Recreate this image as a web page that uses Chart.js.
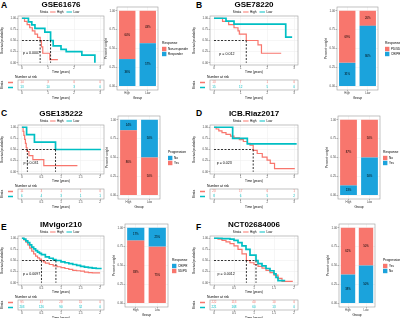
<!DOCTYPE html>
<html>
<head>
<meta charset="utf-8">
<script src="https://cdn.jsdelivr.net/npm/chart.js@4.4.1/dist/chart.umd.min.js"></script>
<style>
  body { margin: 0; width: 400px; height: 318px; background: #fff; position: relative; overflow: hidden; font-family: "Liberation Sans", Arial, sans-serif; }
  canvas { position: absolute; }
  .tag { position: absolute; font-weight: bold; font-size: 8.5px; line-height: 1; }
</style>
</head>
<body>
<div class="tag" style="left:1px;top:1px">A</div>
<div class="tag" style="left:196px;top:1px">B</div>
<div class="tag" style="left:1px;top:109px">C</div>
<div class="tag" style="left:196px;top:109px">D</div>
<div class="tag" style="left:1px;top:223px">E</div>
<div class="tag" style="left:196px;top:223px">F</div>
<script>
const RED = '#F8766D', TEAL = '#00BFC4', BLUE = '#1BA3DC';
const FONT = '"Liberation Sans", Arial, sans-serif';

const groups = ['High', 'Low'];
const yearTicks3 = [0, 1, 2, 3];
const yearTicks2 = [0, 0.5, 1, 1.5, 2];
const survTicks = [0, 0.25, 0.5, 0.75, 1];

// A - GSE61676
const timeHighA = [0, 0.1, 0.2, 0.3, 0.4, 0.5, 0.6, 0.7, 0.75, 0.8, 1.07, 1.38];
const survHighA = [1, 0.929, 0.857, 0.786, 0.714, 0.643, 0.571, 0.5, 0.357, 0.214, 0.071, 0.071];
const timeLowA = [0, 0.25, 0.38, 0.5, 0.88, 1.1, 1.2, 1.5, 1.7, 2.3, 2.8];
const survLowA = [1, 0.92, 0.85, 0.77, 0.69, 0.5, 0.38, 0.3, 0.25, 0.17, 0];
const medianA = [0.7, 1.1];
const riskHighA = [14, 3, 0, 0];
const riskLowA = [13, 10, 3, 0];
const nonRespA = [64, 43];
const respA = [36, 57];

// B - GSE78220
const timeHighB = [0, 0.32, 0.55, 0.75, 0.9, 0.95, 1.21, 1.65, 1.78, 2.52];
const survHighB = [1, 0.929, 0.857, 0.786, 0.714, 0.643, 0.5, 0.4, 0.214, 0.214];
const timeLowB = [0, 0.45, 0.75, 2.69, 2.93];
const survLowB = [1, 0.933, 0.867, 0.578, 0.578];
const medianB = [1.21];
const riskHighB = [13, 7, 1, 0];
const riskLowB = [15, 12, 5, 0];
const pdsdB = [69, 20];
const crprB = [31, 80];

// C - GSE135222
const timeHighC = [0, 0.03, 0.05, 0.07, 0.09, 0.11, 0.13, 0.18, 0.28, 0.56, 1.42];
const survHighC = [1, 0.909, 0.818, 0.727, 0.636, 0.545, 0.455, 0.364, 0.273, 0.14, 0.14];
const timeLowC = [0, 0.12, 0.32, 0.86, 2.02];
const survLowC = [1, 0.833, 0.667, 0.5, 0.5];
const medianC = [0.14, 0.86];
const riskHighC = [11, 3, 1, 1, 0];
const riskLowC = [6, 4, 3, 1, 1];
const progNoC = [14, 50];
const progYesC = [86, 50];

// D - ICB.Riaz2017
const timeHighD = [0, 0.08, 0.18, 0.3, 0.45, 0.62, 0.75, 0.95, 1.1, 1.25, 1.35, 1.47, 1.62, 1.81, 1.99, 2.11, 2.27, 3.03];
const survHighD = [1, 0.96, 0.92, 0.88, 0.84, 0.8, 0.76, 0.72, 0.68, 0.64, 0.6, 0.48, 0.41, 0.33, 0.26, 0.19, 0.07, 0.07];
const timeLowD = [0, 0.7, 1.25, 3.1];
const survLowD = [1, 0.75, 0.625, 0.625];
const medianD = [1.47];
const riskHighD = [23, 17, 6, 1];
const riskLowD = [8, 6, 5, 2];
const respNoD = [87, 50];
const respYesD = [13, 50];

// E - IMvigor210
const timeHighE = [0, 0.05, 0.1, 0.15, 0.2, 0.25, 0.3, 0.35, 0.4, 0.45, 0.5, 0.55, 0.6, 0.7, 0.8, 0.9, 1.0, 1.1, 1.2, 1.3, 1.4, 1.5, 1.6, 1.7, 1.8, 1.9, 2.0];
const survHighE = [1, 0.96, 0.91, 0.85, 0.78, 0.71, 0.65, 0.6, 0.56, 0.53, 0.5, 0.47, 0.44, 0.41, 0.38, 0.36, 0.34, 0.32, 0.3, 0.28, 0.27, 0.26, 0.24, 0.23, 0.22, 0.22, 0.22];
const timeLowE = [0, 0.05, 0.1, 0.15, 0.2, 0.25, 0.3, 0.35, 0.4, 0.45, 0.5, 0.6, 0.7, 0.8, 0.87, 1.0, 1.1, 1.2, 1.3, 1.4, 1.5, 1.6, 1.7, 1.8, 1.9, 2.04];
const survLowE = [1, 0.98, 0.94, 0.9, 0.85, 0.8, 0.76, 0.72, 0.69, 0.66, 0.63, 0.58, 0.55, 0.52, 0.5, 0.47, 0.45, 0.43, 0.41, 0.39, 0.37, 0.35, 0.34, 0.33, 0.32, 0.32];
const medianE = [0.5, 0.87];
const riskHighE = [95, 47, 28, 15, 0];
const riskLowE = [203, 126, 90, 52, 0];
const crprE = [17, 25];
const sdpdE = [83, 75];

// F - NCT02684006
const timeHighF = [0, 0.1, 0.2, 0.3, 0.4, 0.5, 0.6, 0.7, 0.81, 0.9, 1.0, 1.1, 1.2, 1.3, 1.4, 1.5, 1.6, 1.7, 1.97];
const survHighF = [1, 0.98, 0.95, 0.92, 0.88, 0.83, 0.75, 0.65, 0.5, 0.45, 0.41, 0.37, 0.33, 0.28, 0.23, 0.17, 0.1, 0.03, 0.03];
const timeLowF = [0, 0.2, 0.4, 0.5, 0.6, 0.7, 0.8, 0.9, 1.05, 1.1, 1.2, 1.3, 1.4, 1.5, 1.55, 1.6, 1.78];
const survLowF = [1, 0.99, 0.98, 0.95, 0.9, 0.83, 0.75, 0.62, 0.5, 0.43, 0.38, 0.32, 0.27, 0.2, 0.12, 0.05, 0.05];
const medianF = [0.81, 1.05];
const riskHighF = [222, 113, 40, 10, 0];
const riskLowF = [221, 168, 60, 13, 0];
const progYesF = [62, 50];
const progNoF = [38, 50];

const panels = [
  {title: 'GSE61676', col: 0, row: 0, tHigh: timeHighA, sHigh: survHighA, tLow: timeLowA, sLow: survLowA, median: medianA,
   p: 'p = 0.0007', pPos: [0.04, 0.22], xTicks: yearTicks3, riskHigh: riskHighA, riskLow: riskLowA,
   legendTitle: 'Response', top: {label: 'Non-responder', color: RED, pct: nonRespA}, bottom: {label: 'Responder', color: BLUE, pct: respA},
   frame: [117, 158], gap: 4},
  {title: 'GSE78220', col: 1, row: 0, tHigh: timeHighB, sHigh: survHighB, tLow: timeLowB, sLow: survLowB, median: medianB,
   p: 'p = 0.012', pPos: [0.2, 0.2], xTicks: yearTicks3, riskHigh: riskHighB, riskLow: riskLowB,
   legendTitle: 'Response', top: {label: 'PD/SD', color: RED, pct: pdsdB}, bottom: {label: 'CR/PR', color: BLUE, pct: crprB},
   frame: [337, 378], gap: 7},
  {title: 'GSE135222', col: 0, row: 1, tHigh: timeHighC, sHigh: survHighC, tLow: timeLowC, sLow: survLowC, median: medianC,
   p: 'p = 0.031', pPos: [0.04, 0.2], xTicks: yearTicks2, riskHigh: riskHighC, riskLow: riskLowC,
   legendTitle: 'Progression', top: {label: 'No', color: BLUE, pct: progNoC}, bottom: {label: 'Yes', color: RED, pct: progYesC},
   frame: [118, 160], gap: 8},
  {title: 'ICB.Riaz2017', col: 1, row: 1, tHigh: timeHighD, sHigh: survHighD, tLow: timeLowD, sLow: survLowD, median: medianD,
   p: 'p = 0.023', pPos: [0.1, 0.2], xTicks: yearTicks3, riskHigh: riskHighD, riskLow: riskLowD,
   legendTitle: 'Response', top: {label: 'No', color: RED, pct: respNoD}, bottom: {label: 'Yes', color: BLUE, pct: respYesD},
   frame: [338, 380], gap: 3},
  {title: 'IMvigor210', col: 0, row: 2, tHigh: timeHighE, sHigh: survHighE, tLow: timeLowE, sLow: survLowE, median: medianE,
   p: 'p = 0.0097', pPos: [0.03, 0.2], xTicks: yearTicks2, riskHigh: riskHighE, riskLow: riskLowE,
   legendTitle: 'Response', top: {label: 'CR/PR', color: BLUE, pct: crprE}, bottom: {label: 'SD/PD', color: RED, pct: sdpdE},
   frame: [125, 168], gap: 4},
  {title: 'NCT02684006', col: 1, row: 2, tHigh: timeHighF, sHigh: survHighF, tLow: timeLowF, sLow: survLowF, median: medianF,
   p: 'p = 0.0012', pPos: [0.09, 0.2], xTicks: yearTicks2, riskHigh: riskHighF, riskLow: riskLowF,
   legendTitle: 'Progression', top: {label: 'Yes', color: RED, pct: progYesF}, bottom: {label: 'No', color: BLUE, pct: progNoF},
   frame: [339, 375], gap: 8}
];

// page layout
const rowTop = [0, 109, 220];
const barTop = [0, 109, 217];
const kmLeft = [0, 192], kmWidth = [106, 108], colRight = [200, 400];

function place(left, top, w, h) {
  const c = document.createElement('canvas');
  c.width = w; c.height = h;
  c.style.left = left + 'px';
  c.style.top = top + 'px';
  document.body.appendChild(c);
  return c;
}

function pts(t, s) { return t.map((v, i) => ({x: v, y: s[i]})); }

const framePlugin = {
  id: 'frame',
  afterDraw(chart) {
    const {ctx, chartArea: a} = chart;
    ctx.save();
    ctx.strokeStyle = '#9a9a9a';
    ctx.lineWidth = 0.6;
    ctx.strokeRect(a.left, a.top, a.right - a.left, a.bottom - a.top);
    ctx.restore();
  }
};

function timeAxis(ticks, height) {
  const span = ticks[ticks.length - 1] - ticks[0];
  return {
    type: 'linear', bounds: 'data',
    min: ticks[0] - span * 0.05, max: ticks[ticks.length - 1] + span * 0.05,
    afterBuildTicks: s => { s.ticks = ticks.map(v => ({value: v})); },
    afterFit: s => { s.height = height; },
    ticks: {font: {size: 2.8}, padding: 0.5, maxRotation: 0, autoSkip: false, color: '#444', callback: v => String(v)},
    grid: {color: '#ececec', lineWidth: 0.5, tickLength: 1.5, tickColor: '#666', tickWidth: 0.5},
    border: {display: false},
    title: {display: true, text: 'Time (years)', font: {size: 3.2}, padding: 0.3, color: '#000'}
  };
}

function drawKM(p) {
  const c = place(kmLeft[p.col], rowTop[p.row], kmWidth[p.col], 74);
  const dash = {borderColor: '#000', borderWidth: 0.8, borderDash: [2, 1.5], pointRadius: 0, order: 1};
  const datasets = [
    {label: 'High', data: pts(p.tHigh, p.sHigh), borderColor: RED, borderWidth: 1.2, stepped: true, pointRadius: 0, order: 3},
    {label: 'Low', data: pts(p.tLow, p.sLow), borderColor: TEAL, borderWidth: 1.7, stepped: true, pointRadius: 0, order: 2}
  ];
  datasets.push({label: 'median', data: [{x: 0, y: 0.5}, {x: Math.max(...p.median), y: 0.5}], ...dash});
  p.median.forEach(m => datasets.push({label: 'median', data: [{x: m, y: 0.5}, {x: m, y: 0}], ...dash}));

  const header = {
    id: 'kmHeader',
    afterDraw(chart) {
      const {ctx, chartArea: a, scales} = chart;
      const cx = (a.left + a.right) / 2;
      ctx.save();
      ctx.fillStyle = '#000';
      ctx.textBaseline = 'middle';
      ctx.textAlign = 'center';
      ctx.font = 'bold 8px ' + FONT;
      ctx.fillText(p.title, cx, a.top - 11.5);
      // strata legend
      ctx.font = '3.1px ' + FONT;
      const items = [{t: 'High', c: RED}, {t: 'Low', c: TEAL}];
      let w = ctx.measureText('Strata').width + 2;
      items.forEach(it => { w += 7 + ctx.measureText(it.t).width + 3; });
      let x = cx - w / 2;
      const y = a.top - 4;
      ctx.textAlign = 'left';
      ctx.fillText('Strata', x, y);
      x += ctx.measureText('Strata').width + 2;
      items.forEach(it => {
        ctx.strokeStyle = it.c; ctx.lineWidth = 1;
        ctx.beginPath(); ctx.moveTo(x, y); ctx.lineTo(x + 5.5, y); ctx.stroke();
        x += 7;
        ctx.fillText(it.t, x, y);
        x += ctx.measureText(it.t).width + 3;
      });
      // p value
      ctx.font = '3.6px ' + FONT;
      ctx.fillText(p.p, scales.x.getPixelForValue(p.pPos[0]), scales.y.getPixelForValue(p.pPos[1]));
      ctx.restore();
    }
  };

  new Chart(c, {
    type: 'line',
    data: {datasets},
    options: {
      responsive: false, animation: false, devicePixelRatio: 1,
      layout: {padding: {top: 16, right: 2, left: 0, bottom: 0}},
      scales: {
        x: timeAxis(p.xTicks, 9),
        y: {
          type: 'linear', bounds: 'data', min: -0.05, max: 1.05,
          afterBuildTicks: s => { s.ticks = survTicks.map(v => ({value: v})); },
          afterFit: s => { s.width = 18; },
          ticks: {font: {size: 2.8}, padding: 0.5, color: '#444', callback: v => v.toFixed(2)},
          grid: {color: '#ececec', lineWidth: 0.5, tickLength: 1.5, tickColor: '#666', tickWidth: 0.5},
          border: {display: false},
          title: {display: true, text: 'Survival probability', font: {size: 3.2}, padding: 0.5, color: '#000'}
        }
      },
      plugins: {legend: {display: false}, tooltip: {enabled: false}}
    },
    plugins: [framePlugin, header]
  });
}

function drawRisk(p) {
  const c = place(kmLeft[p.col], rowTop[p.row] + 74, kmWidth[p.col], 26);
  const datasets = [
    {label: 'High', data: p.xTicks.map(t => ({x: t, y: 'High'})), counts: p.riskHigh, color: RED, pointRadius: 0},
    {label: 'Low', data: p.xTicks.map(t => ({x: t, y: 'Low'})), counts: p.riskLow, color: TEAL, pointRadius: 0}
  ];
  const table = {
    id: 'riskTable',
    afterDatasetsDraw(chart) {
      const {ctx, chartArea: a, scales} = chart;
      ctx.save();
      ctx.textAlign = 'center';
      ctx.textBaseline = 'middle';
      ctx.font = '3px ' + FONT;
      chart.data.datasets.forEach((ds, i) => {
        ctx.fillStyle = ds.color;
        chart.getDatasetMeta(i).data.forEach((pt, j) => ctx.fillText(ds.counts[j], pt.x, pt.y));
        const y = scales.y.getPixelForValue(i);
        ctx.strokeStyle = ds.color; ctx.lineWidth = 1.5;
        ctx.beginPath(); ctx.moveTo(a.left - 10, y); ctx.lineTo(a.left - 5, y); ctx.stroke();
      });
      ctx.fillStyle = '#000';
      ctx.textAlign = 'left';
      ctx.textBaseline = 'bottom';
      ctx.font = '3.4px ' + FONT;
      ctx.fillText('Number at risk', a.left - 3, a.top - 1);
      ctx.restore();
    }
  };
  new Chart(c, {
    type: 'scatter',
    data: {datasets},
    options: {
      responsive: false, animation: false, devicePixelRatio: 1,
      layout: {padding: {top: 6, right: 2, left: 0, bottom: 0}},
      scales: {
        x: timeAxis(p.xTicks, 10),
        y: {
          type: 'category', labels: groups, offset: true,
          afterFit: s => { s.width = 18; },
          ticks: {display: false},
          grid: {display: false},
          border: {display: false},
          title: {display: true, text: 'Strata', font: {size: 3.2}, padding: 0, color: '#000'}
        }
      },
      plugins: {legend: {display: false}, tooltip: {enabled: false}}
    },
    plugins: [framePlugin, table]
  });
}

function drawBars(p) {
  const left = p.frame[0] - 13;
  const w = colRight[p.col] - left;
  const c = place(left, barTop[p.row], w, 100);
  const datasets = [
    {label: p.bottom.label, data: p.bottom.pct.map(v => v / 100), pct: p.bottom.pct, backgroundColor: p.bottom.color},
    {label: p.top.label, data: p.top.pct.map(v => v / 100), pct: p.top.pct, backgroundColor: p.top.color}
  ];
  const labels = {
    id: 'barLabels',
    afterDatasetsDraw(chart) {
      const {ctx, chartArea: a} = chart;
      ctx.save();
      ctx.fillStyle = '#000';
      ctx.textAlign = 'center';
      ctx.textBaseline = 'middle';
      ctx.font = '2.8px ' + FONT;
      chart.data.datasets.forEach((ds, i) => {
        chart.getDatasetMeta(i).data.forEach((bar, j) => ctx.fillText(ds.pct[j] + '%', bar.x, (bar.y + bar.base) / 2));
      });
      // legend, top segment first
      const mid = (a.top + a.bottom) / 2;
      const x = a.right + p.gap;
      ctx.textAlign = 'left';
      ctx.font = '3.4px ' + FONT;
      ctx.fillText(p.legendTitle, x, mid - 5.5);
      ctx.font = '3px ' + FONT;
      chart.data.datasets.slice().reverse().forEach((ds, k) => {
        const y = mid + 0.5 + k * 5;
        ctx.fillStyle = ds.backgroundColor;
        ctx.fillRect(x, y - 2.2, 4.4, 4.4);
        ctx.fillStyle = '#000';
        ctx.fillText(ds.label, x + 6, y);
      });
      ctx.restore();
    }
  };
  new Chart(c, {
    type: 'bar',
    data: {labels: groups, datasets},
    options: {
      responsive: false, animation: false, devicePixelRatio: 1,
      layout: {padding: {top: 7, right: w - (p.frame[1] - left), left: 0, bottom: 0}},
      datasets: {bar: {barPercentage: 0.8, categoryPercentage: 1}},
      scales: {
        x: {
          stacked: true,
          afterFit: s => { s.height = 10; },
          ticks: {font: {size: 2.8}, padding: 0.5, color: '#444'},
          grid: {color: '#ececec', offset: false, lineWidth: 0.5, tickLength: 1.5, tickColor: '#666', tickWidth: 0.5},
          border: {display: false},
          title: {display: true, text: 'Group', font: {size: 3.2}, padding: 0.3, color: '#000'}
        },
        y: {
          stacked: true, bounds: 'data', min: -0.05, max: 1.05,
          afterBuildTicks: s => { s.ticks = survTicks.map(v => ({value: v})); },
          afterFit: s => { s.width = 13; },
          ticks: {font: {size: 2.8}, padding: 0.5, color: '#444', callback: v => v.toFixed(2)},
          grid: {color: '#ececec', lineWidth: 0.5, tickLength: 1.5, tickColor: '#666', tickWidth: 0.5},
          border: {display: false},
          title: {display: true, text: 'Percent weight', font: {size: 3.2}, padding: 0.5, color: '#000'}
        }
      },
      plugins: {legend: {display: false}, tooltip: {enabled: false}}
    },
    plugins: [framePlugin, labels]
  });
}

panels.forEach(p => { drawKM(p); drawRisk(p); drawBars(p); });
</script>
</body>
</html>
